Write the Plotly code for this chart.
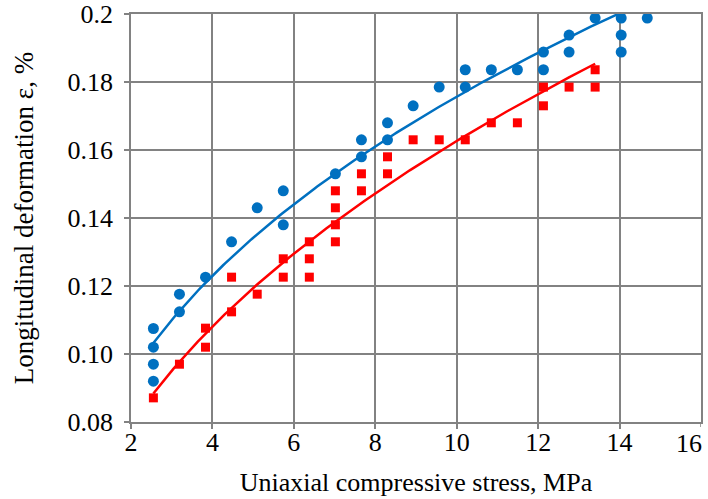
import numpy as np
import plotly.graph_objects as go

# Measured points: uniaxial compressive stress (MPa) vs longitudinal deformation (%)
blue_x = [2.55, 2.55, 2.55, 2.55, 3.19, 3.19, 3.83, 4.47, 5.10, 5.74, 5.74,
          7.02, 7.66, 7.66, 8.30, 8.30, 8.93, 9.57, 10.21, 10.21, 10.85,
          11.49, 12.13, 12.13, 12.76, 12.76, 13.40, 14.04, 14.04, 14.04, 14.68]
blue_y = [0.1075, 0.102, 0.097, 0.092, 0.1176, 0.1124, 0.1226, 0.133, 0.143,
          0.148, 0.138, 0.153, 0.158, 0.163, 0.163, 0.168, 0.173, 0.1785,
          0.1785, 0.1836, 0.1836, 0.1836, 0.1836, 0.1888, 0.1888, 0.1938,
          0.1988, 0.1988, 0.1938, 0.1888, 0.1988]

red_x = [2.55, 3.19, 3.83, 3.83, 4.47, 4.47, 5.10, 5.74, 5.74, 6.38, 6.38,
         6.38, 7.02, 7.02, 7.02, 7.02, 7.66, 7.66, 8.30, 8.30, 8.93, 9.57,
         10.21, 10.85, 11.49, 12.13, 12.13, 12.76, 13.40, 13.40]
red_y = [0.0871, 0.097, 0.1076, 0.102, 0.1226, 0.1124, 0.1176, 0.128, 0.1226,
         0.133, 0.128, 0.1226, 0.148, 0.143, 0.138, 0.133, 0.153, 0.148,
         0.158, 0.153, 0.163, 0.163, 0.163, 0.168, 0.168, 0.1785, 0.173,
         0.1785, 0.1836, 0.1785]

x_ticks = [2, 4, 6, 8, 10, 12, 14, 16]
x_tick_text = ["2", "4", "6", "8", "10", "12", "14", "16"]
y_ticks = [0.08, 0.10, 0.12, 0.14, 0.16, 0.18, 0.2]
y_tick_text = ["0.08", "0.10", "0.12", "0.14", "0.16", "0.18", "0.2"]

BLUE = "#0070C0"
RED = "#FF0000"
GRID = "#828282"
FONT = "Liberation Serif, Times New Roman, serif"
TICK_SIZE = 26


def power_trend(xs, ys):
    """Least-squares power trendline y = a*x^b, fitted in log-log space."""
    b, ln_a = np.polyfit(np.log(xs), np.log(ys), 1)
    xf = np.linspace(min(xs), max(xs), 200)
    return xf, np.exp(ln_a) * xf ** b


fig = go.Figure()

for xs, ys, color in [(blue_x, blue_y, BLUE), (red_x, red_y, RED)]:
    xf, yf = power_trend(xs, ys)
    fig.add_trace(go.Scatter(x=xf, y=yf, mode="lines",
                             line=dict(color=color, width=2.5),
                             hoverinfo="skip", showlegend=False))

fig.add_trace(go.Scatter(x=blue_x, y=blue_y, mode="markers",
                         marker=dict(symbol="circle", size=11, color=BLUE),
                         cliponaxis=False, showlegend=False))
fig.add_trace(go.Scatter(x=red_x, y=red_y, mode="markers",
                         marker=dict(symbol="square", size=9, color=RED),
                         cliponaxis=False, showlegend=False))

axis_common = dict(
    showgrid=True, gridcolor=GRID, gridwidth=1.5,
    showline=True, linecolor=GRID, linewidth=1.5, mirror=True,
    ticks="outside", ticklen=5, tickcolor=GRID, tickwidth=1.5,
    zeroline=False, automargin=False,
    tickfont=dict(family=FONT, size=TICK_SIZE, color="#000000"),
)

# the last x label sits flush with the right edge of the frame, drawn as an
# annotation right-anchored at its tick so it stays within the page
fig.update_xaxes(range=[2, 16], tickvals=x_ticks[:-1], ticktext=x_tick_text[:-1],
                 ticklabelstandoff=-9, **axis_common,
                 title=dict(text="Uniaxial compressive stress, MPa",
                            font=dict(family=FONT, size=26, color="#000000"),
                            standoff=17))
fig.add_annotation(x=x_ticks[-1], y=0, xref="x", yref="paper",
                   text=x_tick_text[-1], showarrow=False,
                   xanchor="right", yanchor="top", xshift=3, yshift=-5,
                   font=dict(family=FONT, size=TICK_SIZE, color="#000000"))
# tick mark under the last gridline
fig.add_shape(type="line", xref="x", yref="paper", x0=x_ticks[-1], x1=x_ticks[-1],
              y0=0, y1=-0.012, line=dict(color=GRID, width=1.5))

fig.update_yaxes(range=[0.08, 0.2], tickvals=y_ticks, ticktext=y_tick_text,
                 ticklabelstandoff=6, **axis_common,
                 title=dict(text="Longitudinal deformation ε, %",
                            font=dict(family=FONT, size=27, color="#000000"),
                            standoff=26))

fig.update_layout(
    width=708, height=499,
    margin=dict(l=131, r=7, t=14, b=77),
    paper_bgcolor="white", plot_bgcolor="white",
    font=dict(family=FONT),
)

fig.write_html("out.html")
